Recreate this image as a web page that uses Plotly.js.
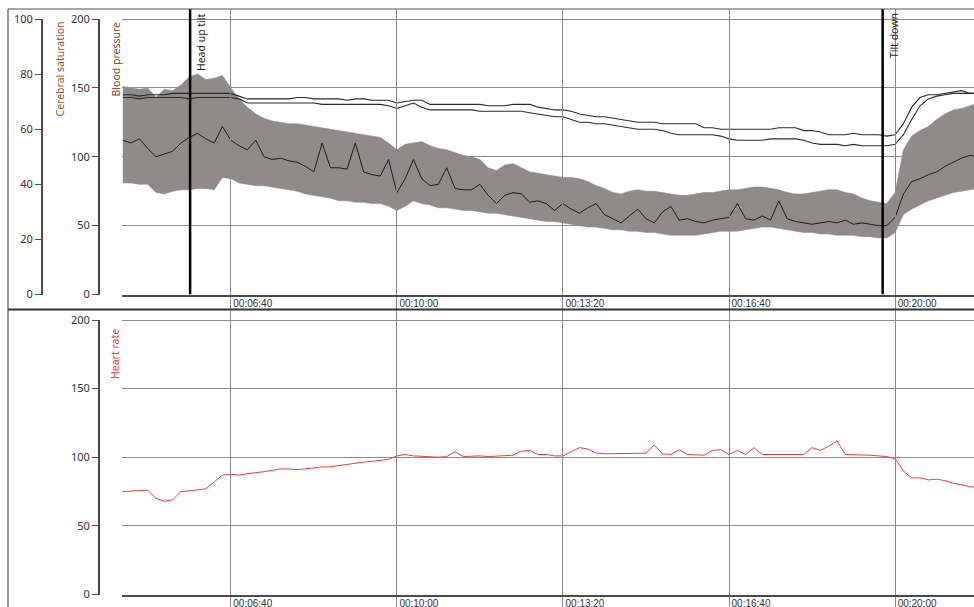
<!DOCTYPE html>
<html><head><meta charset="utf-8">
<script src="https://cdn.plot.ly/plotly-3.0.1.min.js"></script>
<style>html,body{margin:0;padding:0;background:#fff;}#c{width:974px;height:607px;}</style>
</head><body><div id="c"></div>
<script>
// time axis (seconds from start of recording)
const time = [270,280,290,300,310,320,330,340,350,360,370,380,390,400,410,420,430,440,450,460,470,480,490,500,510,520,530,540,550,560,570,580,590,600,610,620,630,640,650,660,670,680,690,700,710,720,730,740,750,760,770,780,790,800,810,820,830,840,850,860,870,880,890,900,910,920,930,940,950,960,970,980,990,1000,1010,1020,1030,1040,1050,1060,1070,1080,1090,1100,1110,1120,1130,1140,1150,1160,1170,1180,1190,1200,1210,1220,1230,1240,1250,1260,1270,1280,1290,1300];
// beat-to-beat blood pressure envelope (upper = systolic, lower = diastolic)
const bpUpper = [151,150,149,150,143,149,148,152,158,160,156,157,159,150,142,136,131,128,126,125,124,124,123,122,121,120,119,118,117,116,115,114,110,105,109,110,111,108,106,105,103,101,100,98,92,90,94,95,92,89,88,87,86,85,85,84,82,79,77,74,73,75,76,75,75,74,73,72,72,73,74,74,75,76,76,77,78,78,77,76,74,73,73,74,75,76,76,74,73,70,68,67,66,74,105,115,119,122,127,131,134,135,137,139];
const bpLower = [81,81,80,80,74,73,75,76,76,77,77,76,85,84,81,80,79,79,78,77,76,75,73,72,71,70,68,68,67,67,66,66,64,61,64,68,66,65,63,63,62,61,61,60,59,59,58,57,56,55,54,53,53,52,51,50,49,49,48,47,47,46,46,45,45,44,43,43,43,43,44,45,46,46,46,47,48,49,49,48,47,46,45,45,44,44,43,43,43,42,42,41,41,45,58,62,65,68,70,72,74,75,76,77];
// mean arterial pressure
const bpMean = [112,110,113,106,100,102,104,110,114,117,113,110,122,112,108,105,112,100,98,99,97,96,93,89,110,92,92,91,110,89,87,86,98,74,84,98,84,79,80,92,77,76,76,80,72,66,72,74,73,67,68,66,61,66,62,59,63,66,58,55,52,57,62,55,52,60,64,54,55,53,52,54,55,56,66,55,54,57,54,68,55,53,52,51,52,53,52,54,51,52,51,50,50,56,73,82,84,87,89,93,96,99,101,100];
// continuous (averaged) pressure traces
const bpTraceA = [145,145,144,145,145,145,146,146,146,146,146,146,146,146,144,142,142,142,142,142,142,143,143,142,142,142,142,141,142,142,141,141,141,139,140,141,141,138,138,138,138,138,138,138,137,137,137,138,138,138,136,135,134,134,133,131,130,129,129,128,127,126,125,125,125,124,124,124,124,124,121,121,120,120,120,120,120,120,120,121,121,121,119,119,118,116,116,116,117,116,116,116,115,116,124,136,143,145,145,146,147,148,146,146];
const bpTraceB = [143,143,142,143,143,143,143,143,142,143,143,143,143,143,142,139,139,139,139,139,139,139,139,139,138,138,138,138,138,138,138,138,137,135,137,139,136,134,134,134,134,134,134,133,133,133,133,133,133,132,131,130,129,129,127,125,125,124,124,123,122,121,120,120,120,119,117,116,116,116,116,116,115,113,112,112,112,112,113,113,113,113,112,110,109,109,109,108,109,108,108,108,108,109,116,127,137,142,144,145,146,146,146,146];
// heart rate
const heartRate = [75,75.5,76,76,70,68,69,75,75.5,76,77,82,87,87.5,87,88,88.5,89.5,90.5,91.5,91.5,91,91.5,92.5,93,93,94,95,95.5,96.5,97,97.5,98.5,101,102,101,100.5,100,100,100.5,104,100.5,101,101,100.5,101,101,101.5,104.5,105,102,102,101,101,104,107,106,103,102.5,102.5,102.5,102.5,102.5,103,109,102.5,102,105.5,102,102,101.5,105,105.5,102,105,102,107,102,102,102,102,102,102,107,105,108,112,102,102,102,101.5,101,100.5,99,90,85,85,83.5,84,83,81,80,78.5,78];
// events
const eventTimes = [351, 1185];
const eventLabels = ["Head up tilt", "Tilt down"];
// axis ticks
const timeTickVals = [400, 600, 800, 1000, 1200];
const timeTickText = ["00:06:40", "00:10:00", "00:13:20", "00:16:40", "00:20:00"];
const bpTicks = [0, 50, 100, 150, 200];
const satTicks = [0, 20, 40, 60, 80, 100];
const hrTicks = [0, 50, 100, 150, 200];

const H = 607, W = 974;
const py = v => 1 - v / H;
const topBottom = 294.5, topTop = 9, top200 = 19;
const botBottom = 594.5, botTop = 310, bot200 = 320;
const bpMax = 200 * (topBottom - topTop) / (topBottom - top200);
const hrMax = 200 * (botBottom - botTop) / (botBottom - bot200);
const xRange = [269, 1295];
const gridC = '#8a8a8a', axC = '#4a4a4a';
const tickFont = {family: 'Noto Sans, sans-serif', size: 11, color: '#333'};

const xCommon = {
  domain: [122 / W, 1], range: xRange, tickmode: 'array', tickvals: timeTickVals, ticktext: timeTickText,
  showgrid: true, gridcolor: gridC, gridwidth: 1, ticks: 'outside', ticklen: 13, tickcolor: gridC, tickwidth: 1,
  showline: true, linecolor: axC, linewidth: 2, zeroline: false,
  tickfont: {family: 'Liberation Sans, Arial, sans-serif', size: 10, color: '#333'},
  ticklabelshift: 22, ticklabelstandoff: -15, fixedrange: true
};
const baseY = (dom, max) => ({
  domain: dom, range: [0, max], tickmode: 'array', tickvals: [0, 50, 100, 150, 200],
  showgrid: true, gridcolor: gridC, gridwidth: 1, showticklabels: false, ticks: '', zeroline: false, showline: false, fixedrange: true
});
const visY = (dom, rng, tv) => ({
  domain: dom, range: rng, tickmode: 'array', tickvals: tv, anchor: 'free', side: 'left',
  showline: true, linecolor: axC, linewidth: 1.5, ticks: 'outside', ticklen: 6, tickcolor: axC,
  showgrid: false, zeroline: false, tickfont: tickFont, fixedrange: true
});

const traces = [
  {x: time, y: bpUpper, xaxis: 'x', yaxis: 'y', mode: 'lines', line: {color: '#8f8b8b', width: 0.6}, hoverinfo: 'skip', showlegend: false},
  {x: time, y: bpLower, xaxis: 'x', yaxis: 'y', mode: 'lines', fill: 'tonexty', fillcolor: '#8f8b8b', line: {color: '#8f8b8b', width: 0.6}, hoverinfo: 'skip', showlegend: false},
  {x: time, y: bpTraceA, xaxis: 'x', yaxis: 'y', mode: 'lines', line: {color: '#2a2a2a', width: 1.1}, showlegend: false},
  {x: time, y: bpTraceB, xaxis: 'x', yaxis: 'y', mode: 'lines', line: {color: '#2a2a2a', width: 1.1}, showlegend: false},
  {x: time, y: bpMean, xaxis: 'x', yaxis: 'y', mode: 'lines', line: {color: '#1a1a1a', width: 1}, showlegend: false},
  {x: time, y: heartRate, xaxis: 'x2', yaxis: 'y4', mode: 'lines', line: {color: '#f03a3a', width: 1}, showlegend: false},
  // axis carriers
  {x: [null], y: [null], xaxis: 'x', yaxis: 'y2', mode: 'lines', showlegend: false, hoverinfo: 'skip'},
  {x: [null], y: [null], xaxis: 'x', yaxis: 'y3', mode: 'lines', showlegend: false, hoverinfo: 'skip'},
  {x: [null], y: [null], xaxis: 'x2', yaxis: 'y5', mode: 'lines', showlegend: false, hoverinfo: 'skip'}
];
eventTimes.forEach(t => traces.push({x: [t, t], y: [0, bpMax], xaxis: 'x', yaxis: 'y', mode: 'lines', line: {color: '#000', width: 2.5}, showlegend: false, hoverinfo: 'skip'}));

const annotations = [
  {text: 'Cerebral saturation', xref: 'paper', yref: 'paper', x: 50 / W, y: py(20), xanchor: 'left', yanchor: 'top', textangle: -90, showarrow: false, font: {family: 'Noto Sans, sans-serif', size: 10.5, color: '#a0501e'}},
  {text: 'Blood pressure', xref: 'paper', yref: 'paper', x: 106 / W, y: py(20), xanchor: 'left', yanchor: 'top', textangle: -90, showarrow: false, font: {family: 'Noto Sans, sans-serif', size: 10.5, color: '#8a4a1e'}},
  {text: 'Heart rate', xref: 'paper', yref: 'paper', x: 106 / W, y: py(327), xanchor: 'left', yanchor: 'top', textangle: -90, showarrow: false, font: {family: 'Noto Sans, sans-serif', size: 10.5, color: '#f03a3a'}}
];
eventTimes.forEach((t, i) => annotations.push({text: eventLabels[i], xref: 'x', yref: 'paper', x: t, xshift: 2, y: py(11), xanchor: 'left', yanchor: 'top', textangle: -90, showarrow: false, font: {family: 'Noto Sans, sans-serif', size: 10.5, color: '#222'}}));

const layout = {
  width: W, height: H, margin: {l: 0, r: 0, t: 0, b: 0}, paper_bgcolor: '#fff', plot_bgcolor: 'rgba(0,0,0,0)', showlegend: false,
  xaxis: Object.assign({}, xCommon, {anchor: 'y'}),
  xaxis2: Object.assign({}, xCommon, {anchor: 'y4', matches: 'x'}),
  yaxis: Object.assign(baseY([py(topBottom), py(topTop)], bpMax), {anchor: 'x'}),
  yaxis2: Object.assign(visY([py(topBottom), py(top200)], [0, 200], bpTicks), {position: 98 / W}),
  yaxis3: Object.assign(visY([py(topBottom), py(top200)], [0, 100], satTicks), {position: 41 / W}),
  yaxis4: Object.assign(baseY([py(botBottom), py(botTop)], hrMax), {anchor: 'x2'}),
  yaxis5: Object.assign(visY([py(botBottom), py(bot200)], [0, 200], hrTicks), {position: 98 / W}),
  annotations: annotations,
  shapes: [
    {type: 'line', xref: 'paper', yref: 'paper', x0: 8 / W, x1: 1, y0: py(9), y1: py(9), line: {color: '#555', width: 1.2}},
    {type: 'line', xref: 'paper', yref: 'paper', x0: 8 / W, x1: 8 / W, y0: py(9), y1: 0, line: {color: '#555', width: 1.2}},
    {type: 'line', xref: 'paper', yref: 'paper', x0: 8 / W, x1: 1, y0: py(309.5), y1: py(309.5), line: {color: '#333', width: 2}}
  ]
};
Plotly.newPlot('c', traces, layout, {staticPlot: true, displayModeBar: false});
</script></body></html>
